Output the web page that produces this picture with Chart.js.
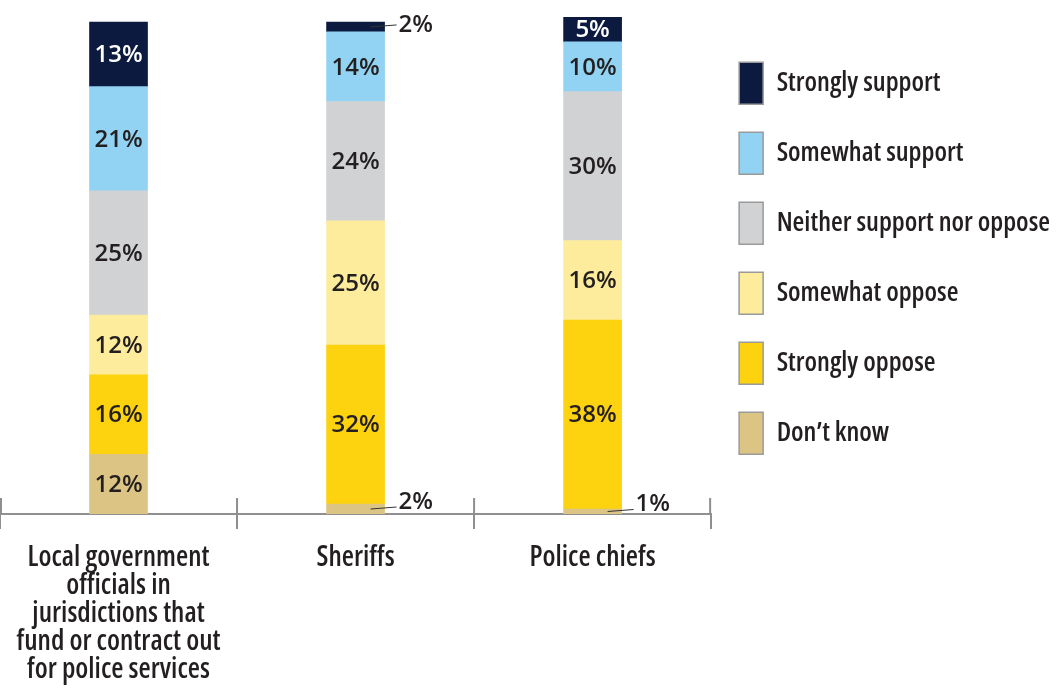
<!DOCTYPE html>
<html>
<head>
<meta charset="utf-8">
<script src="https://cdn.jsdelivr.net/npm/chart.js@4"></script>
<style>
  html, body { margin: 0; padding: 0; background: #fff; }
</style>
</head>
<body>
<canvas id="chart" width="1060" height="689"></canvas>
<script>
const categories = [
  ["Local government", "officials in", "jurisdictions that", "fund or contract out", "for police services"],
  "Sheriffs",
  "Police chiefs"
];

// bottom of the stack first
const seriesNames = ["Don’t know", "Strongly oppose", "Somewhat oppose", "Neither support nor oppose", "Somewhat support", "Strongly support"];
const dontKnow = [12, 2, 1];
const stronglyOppose = [16, 32, 38];
const somewhatOppose = [12, 25, 16];
const neither = [25, 24, 30];
const somewhatSupport = [21, 14, 10];
const stronglySupport = [13, 2, 5];

const colors = ["#dcc584", "#fdd20e", "#fcec9c", "#d1d2d4", "#92d3f3", "#0b1a3e"];
const seriesValues = [dontKnow, stronglyOppose, somewhatOppose, neither, somewhatSupport, stronglySupport];

const textColor = "#231f20";
const axisGray = "#8f8f8f";
// Open Sans is variable, "condensed" in the font string pulls its width axis in
const condFont = { family: "'Open Sans', sans-serif", weight: "600 condensed", size: 28 };

// value labels: inside the bar, or off to the right with a leader line for tiny slices
const barLabels = {
  id: "barLabels",
  afterDatasetsDraw(chart) {
    const ctx = chart.ctx;
    ctx.save();
    ctx.font = "600 24px 'Open Sans', sans-serif";
    chart.data.datasets.forEach((ds, di) => {
      const meta = chart.getDatasetMeta(di);
      meta.data.forEach((bar, i) => {
        const v = ds.data[i];
        const p = bar.getProps(["x", "y", "base", "width"], true);
        const mid = (p.y + p.base) / 2;
        const txt = v + "%";
        ctx.textBaseline = "middle";
        if (v >= 5) {
          ctx.fillStyle = di === 5 ? "#ffffff" : textColor;
          ctx.textAlign = "center";
          ctx.fillText(txt, p.x, mid + 1);
        } else {
          const right = p.x + p.width / 2;
          const lift = di === 0 ? 7 : 2;
          ctx.strokeStyle = "#333";
          ctx.lineWidth = 1;
          ctx.beginPath();
          ctx.moveTo(right - 14, mid);
          ctx.lineTo(right + 12, mid - 2);
          ctx.stroke();
          ctx.fillStyle = textColor;
          ctx.textAlign = "left";
          ctx.fillText(txt, right + 14, mid - lift);
        }
      });
    });
    ctx.restore();
  }
};

// the separators between categories also poke up above the axis line
const upperTicks = {
  id: "upperTicks",
  afterDraw(chart) {
    const x = chart.scales.x;
    const ctx = chart.ctx;
    const n = chart.data.labels.length;
    const pos = [x.left + 1];
    for (let i = 1; i < n; i++) pos.push((x.getPixelForTick(i - 1) + x.getPixelForTick(i)) / 2);
    pos.push(x.right - 1);
    ctx.save();
    ctx.strokeStyle = axisGray;
    ctx.lineWidth = 2;
    pos.forEach(px => {
      ctx.beginPath();
      ctx.moveTo(px, x.top - 16);
      ctx.lineTo(px, x.top);
      ctx.stroke();
    });
    ctx.restore();
  }
};

new Chart(document.getElementById("chart"), {
  type: "bar",
  data: {
    labels: categories,
    datasets: seriesNames.map((name, i) => ({
      label: name,
      data: seriesValues[i],
      backgroundColor: colors[i],
      borderWidth: 0,
      barThickness: 58
    }))
  },
  options: {
    responsive: false,
    animation: false,
    devicePixelRatio: 1,
    layout: { padding: { top: 17, bottom: -10, left: 0, right: 0 } },
    plugins: {
      tooltip: { enabled: false },
      legend: {
        position: "right",
        align: "start",
        reverse: true,
        title: { display: true, text: " ", font: { size: 1 }, padding: { top: 16, bottom: 0 } },
        labels: {
          boxWidth: 24,
          boxHeight: 42,
          padding: 28,
          color: textColor,
          font: Object.assign({}, condFont, { size: 27 }),
          generateLabels(chart) {
            const items = Chart.defaults.plugins.legend.labels.generateLabels(chart);
            return items.map(it => Object.assign(it, { strokeStyle: "#9a9a9a", lineWidth: 1.5 }));
          }
        }
      }
    },
    scales: {
      x: {
        stacked: true,
        border: { color: axisGray, width: 2 },
        grid: { drawOnChartArea: false, tickLength: 15, color: axisGray, lineWidth: 2 },
        ticks: {
          color: textColor,
          padding: 15,
          maxRotation: 0,
          autoSkip: false,
          font: Object.assign({}, condFont, { lineHeight: 1 })
        }
      },
      y: {
        stacked: true,
        display: false,
        min: 0,
        max: 100
      }
    }
  },
  plugins: [barLabels, upperTicks]
});
</script>
</body>
</html>
